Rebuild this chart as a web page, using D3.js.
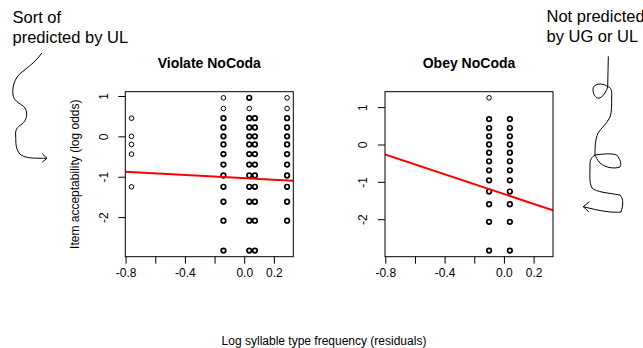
<!DOCTYPE html>
<html>
<head>
<meta charset="utf-8">
<script src="https://cdn.jsdelivr.net/npm/d3@7"></script>
<style>
  html, body { margin: 0; padding: 0; background: #fff; }
  svg { display: block; font-family: "Liberation Sans", Arial, sans-serif; }
</style>
</head>
<body>
<svg id="chart" width="643" height="348"></svg>
<script>
// ---------------- DATA ----------------
const panelTitles = ["Violate NoCoda", "Obey NoCoda"];
const xTickValues = [-0.8, -0.6, -0.4, -0.2, 0.0, 0.2];
const xTickLabels = ["-0.8", "", "-0.4", "", "0.0", "0.2"];
const yTickValues = [-2, -1, 0, 1];
const yTickLabels = ["-2", "-1", "0", "1"];

// Violate NoCoda: x positions of point columns, y values per column, overlap counts
const violateColX = [-0.76, -0.14, 0.034, 0.072, 0.289];
const violateColY = [
  [0.45, 0, -0.2, -0.44, -1.25],
  [0.955, 0.69, 0.45, 0.22, 0, -0.2, -0.44, -0.70, -0.97, -1.25, -1.62, -2.09, -2.83],
  [0.955, 0.69, 0.45, 0.22, 0, -0.2, -0.44, -0.70, -0.97, -1.25, -1.62, -2.09, -2.83],
  [0.45, 0.22, 0, -0.2, -0.44, -0.70, -0.97, -1.25, -1.62, -2.09, -2.83],
  [0.955, 0.69, 0.45, 0.22, 0, -0.2, -0.44, -0.70, -0.97, -1.25, -1.62, -2.09]
];
const violateColN = [
  [1, 1, 1, 1, 1],
  [1, 1, 2, 2, 2, 2, 2, 2, 2, 2, 2, 2, 2],
  [2, 1, 2, 2, 2, 2, 2, 2, 2, 2, 2, 2, 2],
  [2, 2, 2, 2, 2, 2, 2, 2, 2, 2, 2],
  [1, 1, 2, 2, 2, 2, 2, 2, 2, 2, 2, 2]
];
// Obey NoCoda
const obeyColX = [-0.10, 0.04];
const obeyColY = [
  [1.25, 0.68, 0.44, 0.22, 0, -0.22, -0.45, -0.69, -0.96, -1.26, -1.60, -2.07, -2.84],
  [0.68, 0.44, 0.22, 0, -0.22, -0.45, -0.69, -0.96, -1.26, -1.60, -2.07, -2.84]
];
const obeyColN = [
  [1, 2, 2, 2, 2, 2, 2, 2, 2, 2, 2, 2, 2],
  [2, 2, 2, 2, 2, 2, 2, 2, 2, 2, 2, 2]
];
// fitted regression lines: [intercept, slope]
const violateFit = [-1.036, -0.195];
const obeyFit = [-1.326, -1.32];

const yAxisTitle = "Item acceptability (log odds)";
const xAxisTitle = "Log syllable type frequency (residuals)";
const noteLeft = ["Sort of", "predicted by UL"];
const noteRight = ["Not predicted", "by UG or UL"];

// ---------------- BUILD ----------------
function toPoints(cx, cy, cn) {
  const pts = [];
  cx.forEach((x, i) => cy[i].forEach((y, j) => pts.push({ x, y, n: cn[i][j] })));
  return pts;
}
const panels = [
  { title: panelTitles[0], pts: toPoints(violateColX, violateColY, violateColN), fit: violateFit, left: 125.3 },
  { title: panelTitles[1], pts: toPoints(obeyColX, obeyColY, obeyColN), fit: obeyFit, left: 385 }
];

const svg = d3.select("#chart");
const boxW = 168, plotTop = 91.7, boxH = 165;

function padded(ext) {
  const d = (ext[1] - ext[0]) * 0.04;
  return [ext[0] - d, ext[1] + d];
}
const xDomain = padded(d3.extent(violateColX));

panels.forEach((p, pi) => {
  const g = svg.append("g").attr("transform", `translate(${p.left},${plotTop})`);
  const x = d3.scaleLinear().domain(xDomain).range([0, boxW]);
  const y = d3.scaleLinear().domain(padded(d3.extent(p.pts, d => d.y))).range([boxH, 0]);

  // title
  g.append("text").attr("x", boxW / 2).attr("y", -24)
    .attr("text-anchor", "middle").attr("font-weight", "bold").attr("font-size", 14)
    .text(p.title);

  // x axis
  const xa = g.append("g").attr("transform", `translate(0,${boxH})`)
    .call(d3.axisBottom(x).tickValues(xTickValues)
      .tickFormat((d, i) => xTickLabels[i]).tickSize(7).tickPadding(5).tickSizeOuter(0));
  xa.select(".domain").remove();
  xa.selectAll("text").attr("font-size", 12).attr("fill", "#000").attr("font-family", null);
  xa.selectAll("line").attr("stroke", "#000");

  // y axis
  const ya = g.append("g")
    .call(d3.axisLeft(y).tickValues(yTickValues)
      .tickFormat((d, i) => yTickLabels[i]).tickSize(7).tickSizeOuter(0));
  ya.select(".domain").remove();
  ya.selectAll("line").attr("stroke", "#000");
  ya.selectAll("text").attr("font-size", 12).attr("fill", "#000").attr("font-family", null)
    .attr("x", null).attr("dy", null)
    .attr("text-anchor", "middle")
    .attr("transform", "translate(-22,0) rotate(-90)")
    .attr("dy", "0.35em");

  // points
  g.append("g").selectAll("circle").data(p.pts).join("circle")
    .attr("cx", d => x(d.x)).attr("cy", d => y(d.y)).attr("r", 2.3)
    .attr("fill", "none").attr("stroke", "#000")
    .attr("stroke-width", d => d.n > 1 ? 1.7 : 1);

  // regression line
  const clipId = "clip" + pi;
  g.append("clipPath").attr("id", clipId).append("rect")
    .attr("width", boxW).attr("height", boxH);
  const xs = x.domain();
  g.append("line").attr("clip-path", `url(#${clipId})`)
    .attr("x1", x(xs[0])).attr("y1", y(p.fit[0] + p.fit[1] * xs[0]))
    .attr("x2", x(xs[1])).attr("y2", y(p.fit[0] + p.fit[1] * xs[1]))
    .attr("stroke", "#ff0000").attr("stroke-width", 2);

  // box
  g.append("rect").attr("width", boxW).attr("height", boxH)
    .attr("fill", "none").attr("stroke", "#000").attr("stroke-width", 1);
});

// axis titles
svg.append("text").attr("transform", `translate(79,${plotTop + boxH / 2}) rotate(-90)`)
  .attr("text-anchor", "middle").attr("font-size", 12).text(yAxisTitle);
svg.append("text").attr("x", 324).attr("y", 345)
  .attr("text-anchor", "middle").attr("font-size", 12).text(xAxisTitle);

// notes
noteLeft.forEach((t, i) => svg.append("text").attr("x", 12.5).attr("y", 23 + i * 20)
  .attr("font-size", 16.5).text(t));
noteRight.forEach((t, i) => svg.append("text").attr("x", 546.5).attr("y", 22 + i * 20)
  .attr("font-size", 16.5).text(t));

// hand-drawn squiggles
const squiggleLeft = "M41.7,53.3 C37,60 30,66 22,72 C14,78 12,88 13,95 C14,102 22,104 25,108 C28,113 27,120 22,124 C17,127 15,130 15.7,136 C16,142 15,150 21,155 C27,159 38,158 46.7,158.3";
const arrowLeft = "M42.5,154 L47,158.3 L42.5,162";
const squiggleRight = "M608.3,56.7 C608,66 608,77 607.7,86.7 C602,82 593,84 593,89 C593,96 597,99 600,98 C604,96 607,90 607.7,86.7 C611,87 612,90 611.7,97 C611.5,104 612,112 610,117 C607,124 601,128 598,133 C595,140 595,148 595,155 C603,154 611,153 616.7,155 C620,159 622,164 620,167 C614,169 606,168 600,163 C597,160 596,157 595,155 C590,158 590,162 590,166 C590,174 589,183 592,188 C596,192 608,193 620,195 C624,199 623,206 621,212 C612,213 600,211 583.3,206.7";
const arrowRight = "M589,202 L583.3,206.7 L588.5,211.5";
[squiggleLeft, arrowLeft, squiggleRight, arrowRight].forEach(dp =>
  svg.append("path").attr("d", dp).attr("fill", "none").attr("stroke", "#000")
    .attr("stroke-width", 1).attr("stroke-linejoin", "round").attr("stroke-linecap", "round"));
</script>
</body>
</html>
